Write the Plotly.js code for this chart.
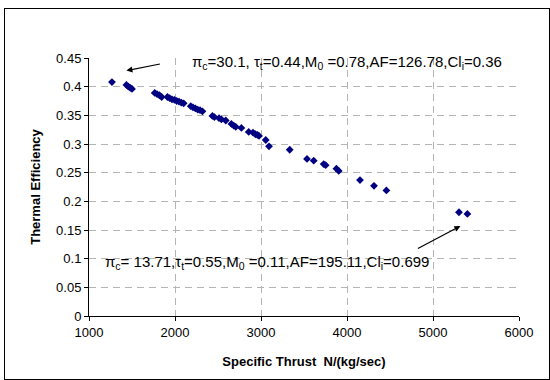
<!DOCTYPE html>
<html>
<head>
<meta charset="utf-8">
<script src="https://cdn.plot.ly/plotly-3.0.1.min.js"></script>
<style>
html,body{margin:0;padding:0;background:#fff;}
#frame{position:absolute;left:4px;top:8px;width:546px;height:372px;border:1px solid #000;box-sizing:border-box;pointer-events:none;}
#chart{position:absolute;left:0;top:0;width:550px;height:380px;}
</style>
</head>
<body>
<div id="chart"></div>
<div id="frame"></div>
<script>
const specificThrust = [1267,1435,1458,1481,1500,1764,1791,1819,1845,1912,1938,1965,1993,2020,2047,2074,2101,2183,2209,2237,2264,2291,2319,2435,2458,2512,2540,2590,2656,2683,2706,2772,2857,2907,2935,2958,2977,3055,3093,3334,3535,3613,3729,3752,3877,3904,4151,4314,4458,5302,5400];
const thermalEff = [0.408,0.403,0.400,0.398,0.396,0.389,0.387,0.385,0.382,0.382,0.380,0.378,0.377,0.375,0.374,0.372,0.371,0.366,0.364,0.362,0.360,0.359,0.357,0.349,0.347,0.345,0.343,0.341,0.335,0.332,0.330,0.328,0.321,0.320,0.317,0.316,0.314,0.307,0.296,0.290,0.274,0.271,0.265,0.263,0.257,0.253,0.237,0.227,0.219,0.181,0.178];
const xTicks = [1000,2000,3000,4000,5000,6000];
const yTicks = [0,0.05,0.1,0.15,0.2,0.25,0.3,0.35,0.4,0.45];
const topNote = "π<sub>c</sub>=30.1, τ<sub>t</sub>=0.44,M<sub>0</sub> =0.78,AF=126.78,Cl<sub>i</sub>=0.36";
const bottomNote = "π<sub>c</sub>= 13.71,τ<sub>t</sub>=0.55,M<sub>0</sub> =0.11,AF=195.11,Cl<sub>i</sub>=0.699";

const font = "Liberation Sans, Arial, sans-serif";
const trace = {
  x: specificThrust, y: thermalEff, type: 'scatter', mode: 'markers',
  marker: {symbol: 'diamond', size: 6, color: '#000080'}, hoverinfo: 'x+y'
};
const axisCommon = {
  showline: true, linecolor: '#000', linewidth: 1,
  ticks: 'outside', ticklen: 4, tickcolor: '#000',
  showgrid: true, gridcolor: '#b4b4b4', griddash: '7px,5px', gridwidth: 1,
  zeroline: false, tickfont: {family: font, size: 13, color: '#000'}
};
const layout = {
  width: 550, height: 380,
  margin: {l: 89, r: 31, t: 58, b: 64},
  paper_bgcolor: 'rgba(0,0,0,0)', plot_bgcolor: '#fff',
  showlegend: false,
  font: {family: font, size: 13, color: '#000'},
  xaxis: Object.assign({}, axisCommon, {
    range: [1000, 6000], tickvals: xTicks, ticktext: xTicks.map(String),
    title: {text: 'Specific Thrust  N/(kg/sec)', font: {family: font, size: 13, color: '#000', weight: 'bold'}, standoff: 18}
  }),
  yaxis: Object.assign({}, axisCommon, {
    range: [0, 0.45], tickvals: yTicks, ticktext: yTicks.map(String),
    title: {text: 'Thermal Efficiency', font: {family: font, size: 13, color: '#000', weight: 'bold'}, standoff: 12}
  }),
  annotations: [
    {xref: 'x', yref: 'y', x: 2171, y: 0.442, text: topNote, showarrow: false, xanchor: 'left', yanchor: 'middle', font: {family: font, size: 15, color: '#000'}},
    {xref: 'x', yref: 'y', x: 1435, y: 0.428, axref: 'x', ayref: 'y', ax: 1842, ay: 0.440, text: '', showarrow: true, arrowhead: 2, arrowsize: 1, arrowwidth: 1.2, arrowcolor: '#000'},
    {xref: 'x', yref: 'y', x: 1160, y: 0.094, text: bottomNote, showarrow: false, xanchor: 'left', yanchor: 'middle', font: {family: font, size: 15, color: '#000'}},
    {xref: 'x', yref: 'y', x: 5319, y: 0.157, axref: 'x', ayref: 'y', ax: 4807, ay: 0.1165, text: '', showarrow: true, arrowhead: 2, arrowsize: 1, arrowwidth: 1.2, arrowcolor: '#000'}
  ]
};
Plotly.newPlot('chart', [trace], layout, {staticPlot: true, displayModeBar: false});
</script>
</body>
</html>
